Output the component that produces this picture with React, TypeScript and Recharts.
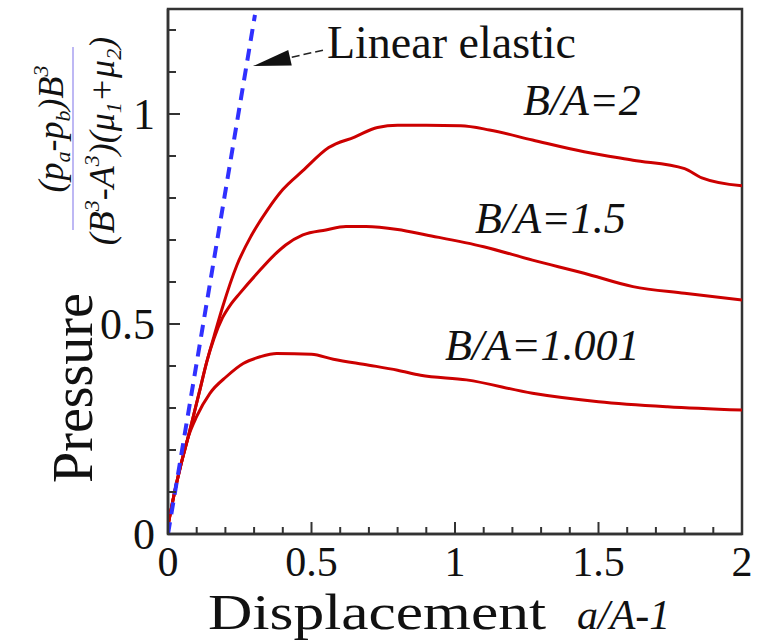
import React from 'react'
import { LineChart, Line, XAxis, YAxis, ReferenceArea, ReferenceDot, ReferenceLine } from 'recharts'

// displacement a/A-1 and normalised pressure
const dispBA2 = [0, 0.02, 0.045, 0.07, 0.09, 0.11, 0.135, 0.16, 0.19, 0.24, 0.29, 0.345, 0.4, 0.47, 0.56, 0.65, 0.73, 0.8, 0.9, 1.02, 1.12, 1.27, 1.45, 1.62, 1.8, 1.86, 2.0]
const pressBA2 = [0.02, 0.09, 0.165, 0.23, 0.285, 0.34, 0.41, 0.47, 0.54, 0.64, 0.71, 0.77, 0.82, 0.865, 0.92, 0.945, 0.968, 0.973, 0.973, 0.972, 0.962, 0.938, 0.91, 0.89, 0.87, 0.848, 0.829]

const dispBA15 = [0, 0.02, 0.045, 0.07, 0.09, 0.11, 0.135, 0.16, 0.19, 0.22, 0.25, 0.31, 0.37, 0.41, 0.47, 0.55, 0.62, 0.69, 0.8, 0.9, 1.1, 1.27, 1.45, 1.62, 1.8, 2.0]
const pressBA15 = [0.02, 0.09, 0.165, 0.23, 0.285, 0.34, 0.41, 0.465, 0.515, 0.548, 0.573, 0.62, 0.664, 0.688, 0.712, 0.724, 0.732, 0.732, 0.725, 0.712, 0.684, 0.652, 0.621, 0.589, 0.573, 0.557]

const dispBA1001 = [0, 0.02, 0.045, 0.07, 0.1, 0.146, 0.204, 0.262, 0.321, 0.379, 0.5, 0.576, 0.7, 0.8, 0.88, 1.04, 1.27, 1.5, 1.74, 2.0]
const pressBA1001 = [0.02, 0.09, 0.165, 0.23, 0.28, 0.335, 0.375, 0.406, 0.422, 0.43, 0.428, 0.416, 0.402, 0.39, 0.378, 0.367, 0.335, 0.315, 0.303, 0.295]

const dispElastic = [0, 0.303]
const pressElastic = [0, 1.236]

const xTicks = [0, 0.1, 0.2, 0.3, 0.4, 0.5, 0.6, 0.7, 0.8, 0.9, 1, 1.1, 1.2, 1.3, 1.4, 1.5, 1.6, 1.7, 1.8, 1.9, 2]
const yTicks = [0, 0.1, 0.2, 0.3, 0.4, 0.5, 0.6, 0.7, 0.8, 0.9, 1, 1.1, 1.2]

const curveLabels = [
  { text: 'B/A=2', x: 1.237, y: 0.998 },
  { text: 'B/A=1.5', x: 1.07, y: 0.717 },
  { text: 'B/A=1.001', x: 0.965, y: 0.414 },
]

const toPoints = (xs: number[], ys: number[]) => xs.map((x, i) => ({ x, y: ys[i] }))

const FONT = '"Liberation Serif", "Times New Roman", serif'
const INK = '#111111'
const AXIS = '#333333'
const RED = '#cc0000'
const BLUE = '#3030ff'

const isMajor = (v: number) => Math.abs(v * 2 - Math.round(v * 2)) < 1e-6
const fmt = (v: number) => String(Math.round(v * 10) / 10)

function XTick({ x, y, payload }: any) {
  const major = isMajor(payload.value)
  return (
    <g>
      <line x1={x} x2={x} y1={y} y2={y - (major ? 12 : 7)} stroke={AXIS} strokeWidth={2} />
      {major && (
        <text x={x} y={y + 42} textAnchor="middle" fontSize={42} fontFamily={FONT} fill={INK}>
          {fmt(payload.value)}
        </text>
      )}
    </g>
  )
}

function YTick({ x, y, payload }: any) {
  const major = isMajor(payload.value)
  return (
    <g>
      <line x1={x} x2={x + (major ? 12 : 8)} y1={y} y2={y} stroke={AXIS} strokeWidth={2} />
      {major && (
        <text x={x - 13} y={y + 15} textAnchor="end" fontSize={44} fontFamily={FONT} fill={INK}>
          {fmt(payload.value)}
        </text>
      )}
    </g>
  )
}

function YTitle({ viewBox }: any) {
  const left = viewBox.x + viewBox.width
  return (
    <g fontFamily={FONT} fill={INK}>
      <text transform={`translate(${left - 76},388) rotate(-90)`} textAnchor="middle" fontSize={56}>
        Pressure
      </text>
      <line x1={left - 95} x2={left - 95} y1={47} y2={230} stroke="#a8a0f0" strokeWidth={1.5} />
      <text transform={`translate(${left - 105},129) rotate(-90)`} textAnchor="middle" fontSize={36} fontStyle="italic">
        (p<tspan fontSize={22} dy={7}>a</tspan>
        <tspan dy={-7}>-p</tspan>
        <tspan fontSize={22} dy={7}>b</tspan>
        <tspan dy={-7}>)B</tspan>
        <tspan fontSize={22} dy={-15}>3</tspan>
      </text>
      <text transform={`translate(${left - 54},141) rotate(-90)`} textAnchor="middle" fontSize={36} fontStyle="italic">
        (B<tspan fontSize={22} dy={-15}>3</tspan>
        <tspan dy={15}>-A</tspan>
        <tspan fontSize={22} dy={-15}>3</tspan>
        <tspan dy={15}>)(μ</tspan>
        <tspan fontSize={22} dy={7}>1</tspan>
        <tspan dy={-7}>+μ</tspan>
        <tspan fontSize={22} dy={7}>2</tspan>
        <tspan dy={-7}>)</tspan>
      </text>
    </g>
  )
}

function XTitle({ viewBox }: any) {
  const base = viewBox.y + 95
  return (
    <g fontFamily={FONT} fill={INK}>
      <text x={viewBox.x + 40} y={base} fontSize={50} textLength={338} lengthAdjust="spacingAndGlyphs">
        Displacement
      </text>
      <text x={viewBox.x + 409} y={base} fontSize={42} fontStyle="italic">
        a/A-1
      </text>
    </g>
  )
}

const curveLabel = (text: string, size: number, italic: boolean) => (props: any) => {
  const { viewBox } = props
  return (
    <text
      x={viewBox.x}
      y={viewBox.y}
      fontSize={size}
      fontStyle={italic ? 'italic' : 'normal'}
      fontFamily={FONT}
      fill={INK}
    >
      {text}
    </text>
  )
}

function ArrowShape({ x1, y1, x2, y2 }: any) {
  const dx = x2 - x1
  const dy = y2 - y1
  const len = Math.hypot(dx, dy) || 1
  const ux = dx / len
  const uy = dy / len
  const head = 38
  const half = 8
  const bx = x2 - ux * head
  const by = y2 - uy * head
  return (
    <g>
      <line x1={x1} y1={y1} x2={bx} y2={by} stroke="#222" strokeWidth={1.5} strokeDasharray="8 4" />
      <polygon
        points={`${x2},${y2} ${bx - uy * half},${by + ux * half} ${bx + uy * half},${by - ux * half}`}
        fill={INK}
      />
    </g>
  )
}

export default function App() {
  return (
    <div style={{ position: 'absolute', left: 0, top: 0, background: '#fff' }}>
      <LineChart width={758} height={643} margin={{ top: 9, right: 16, bottom: 0, left: 0 }}>
        <XAxis
          type="number"
          dataKey="x"
          domain={[0, 2]}
          ticks={xTicks}
          allowDataOverflow
          height={109}
          tickSize={0}
          tickMargin={0}
          tickLine={false}
          axisLine={{ stroke: AXIS, strokeWidth: 2.5 }}
          tick={<XTick />}
          interval={0}
          label={<XTitle />}
        />
        <YAxis
          type="number"
          dataKey="y"
          domain={[0, 1.25]}
          ticks={yTicks}
          allowDataOverflow
          width={168}
          tickSize={0}
          tickMargin={0}
          tickLine={false}
          axisLine={{ stroke: AXIS, strokeWidth: 2.5 }}
          tick={<YTick />}
          interval={0}
          label={<YTitle />}
        />
        <ReferenceArea x1={0} x2={2} y1={0} y2={1.25} fill="none" stroke={AXIS} strokeWidth={2.5} />
        <Line data={toPoints(dispBA2, pressBA2)} dataKey="y" type="monotone" stroke={RED} strokeWidth={3} dot={false} isAnimationActive={false} />
        <Line data={toPoints(dispBA15, pressBA15)} dataKey="y" type="monotone" stroke={RED} strokeWidth={3} dot={false} isAnimationActive={false} />
        <Line data={toPoints(dispBA1001, pressBA1001)} dataKey="y" type="monotone" stroke={RED} strokeWidth={3} dot={false} isAnimationActive={false} />
        <Line
          data={toPoints(dispElastic, pressElastic)}
          dataKey="y"
          type="linear"
          stroke={BLUE}
          strokeWidth={4}
          strokeDasharray="12 8"
          dot={false}
          isAnimationActive={false}
        />
        <ReferenceLine
          segment={[{ x: 0.54, y: 1.152 }, { x: 0.296, y: 1.114 }]}
          shape={<ArrowShape />}
        />
        <ReferenceDot
          x={0.554}
          y={1.133}
          r={0}
          fill="none"
          stroke="none"
          label={curveLabel('Linear elastic', 46, false) as any}
        />
        {curveLabels.map((c) => (
          <ReferenceDot key={c.text} x={c.x} y={c.y} r={0} fill="none" stroke="none" label={curveLabel(c.text, 44, true) as any} />
        ))}
      </LineChart>
    </div>
  )
}
